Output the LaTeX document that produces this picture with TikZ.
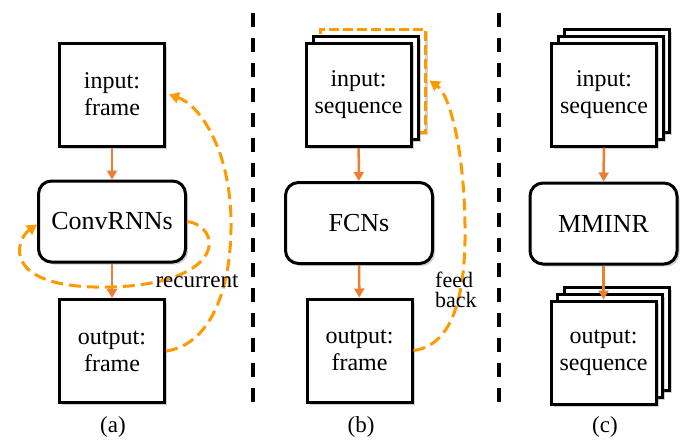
\documentclass[tikz,border=0pt]{standalone}
\usepackage{fontspec}
\setmainfont{Liberation Serif}
\usetikzlibrary{arrows.meta,shadows}
\definecolor{arrowor}{RGB}{237,125,49}
\definecolor{dashor}{RGB}{255,153,0}
\tikzset{
  shade box/.style={drop shadow={shadow xshift=2.5pt, shadow yshift=-2.5pt, opacity=0.3, fill=black!60}},
  sq/.style={draw=black, line width=3pt, fill=white, minimum width=105pt, minimum height=103pt,
    inner sep=0pt, align=center, font=\fontsize{24}{27}\selectfont, shade box},
  sqorange/.style={draw=dashor, line width=3pt, dash pattern=on 10pt off 4pt, fill=white,
    minimum width=105pt, minimum height=103pt, inner sep=0pt, shade box},
  midbox/.style={draw=black, line width=3pt, fill=white, rounded corners=13pt, minimum width=147pt,
    minimum height=81pt, inner sep=0pt, font=\fontsize{26}{30}\selectfont, shade box},
  flow/.style={draw=arrowor, line width=2.5pt, -{Triangle[width=10pt,length=9pt]}},
  fb/.style={draw=dashor, line width=3pt, dash pattern=on 12pt off 6pt, -{Triangle[width=11pt,length=10pt]}},
  divider/.style={draw=black, line width=3.5pt, dash pattern=on 14pt off 11pt},
  lbl/.style={font=\fontsize{23}{20}\selectfont, inner sep=0pt},
  captxt/.style={font=\fontsize{23}{26}\selectfont, inner sep=0pt}
}
\begin{document}
\begin{tikzpicture}[x=1pt,y=-1pt]
\useasboundingbox (0,0) rectangle (690,440);

% dividers
\coordinate (d1t) at (253,13); \coordinate (d1b) at (253,412);
\coordinate (d2t) at (499,13); \coordinate (d2b) at (499,412);
\draw[divider] (d1t) -- (d1b);
\draw[divider] (d2t) -- (d2b);

% ---------- panel (a)
\node[sq] (ain) at (112,94.5) {input:\\frame};
\node[midbox] (aconv) at (112,221.5) {ConvRNNs};
\node[sq] (aout) at (112,351) {output:\\frame};
\draw[flow] (ain) -- (aconv);
\draw[flow] (aconv) -- (aout);
\draw[fb] (aconv.east) .. controls (222,226) and (228,283) .. (112,287)
  .. controls (0,290) and (15,240) .. ([yshift=-3pt]aconv.west);
\draw[fb] (aout.east) .. controls (210,345) and (232,290) .. (231,220)
  .. controls (230,150) and (200,105) .. ([xshift=3pt]ain.east);
\node[lbl] (arec) at (197,281) {recurrent};
\node[captxt] (acap) at (113,427) {(a)};

% ---------- panel (b)
\node[sqorange] (bin2) at (372.5,80.5) {};
\node[sq] (bin1) at (365.5,88) {};
\node[sq] (bin) at (358.5,95) {input:\\sequence};
\node[midbox] (bfcn) at (359,223) {FCNs};
\node[sq] (bout) at (359.5,350.5) {output:\\frame};
\draw[flow] (bin) -- (bfcn);
\draw[flow] (bfcn) -- (bout);
\draw[fb] (bout.east) .. controls (455,345) and (466,290) .. (465,225)
  .. controls (464,150) and (450,95) .. ([xshift=3pt]bin2.east);
\node[lbl, align=left, anchor=west, font=\fontsize{22}{20}\selectfont] (bfb) at (435,290) {feed\\back};
\node[captxt] (bcap) at (361,427) {(b)};

% ---------- panel (c)
\node[sq] (cin2) at (617,81) {};
\node[sq] (cin1) at (610.5,88) {};
\node[sq] (cin) at (604,94.5) {input:\\sequence};
\node[midbox] (cmid) at (603.5,223.5) {MMINR};
\node[sq] (cout2) at (616.5,339) {};
\node[sq] (cout1) at (610,345.75) {};
\node[sq] (cout) at (603.5,352.5) {output:\\sequence};
\draw[flow] (cin) -- (cmid);
\draw[flow] (cmid) -- (cout);
\node[captxt] (ccap) at (605,427) {(c)};
\end{tikzpicture}
\end{document}
